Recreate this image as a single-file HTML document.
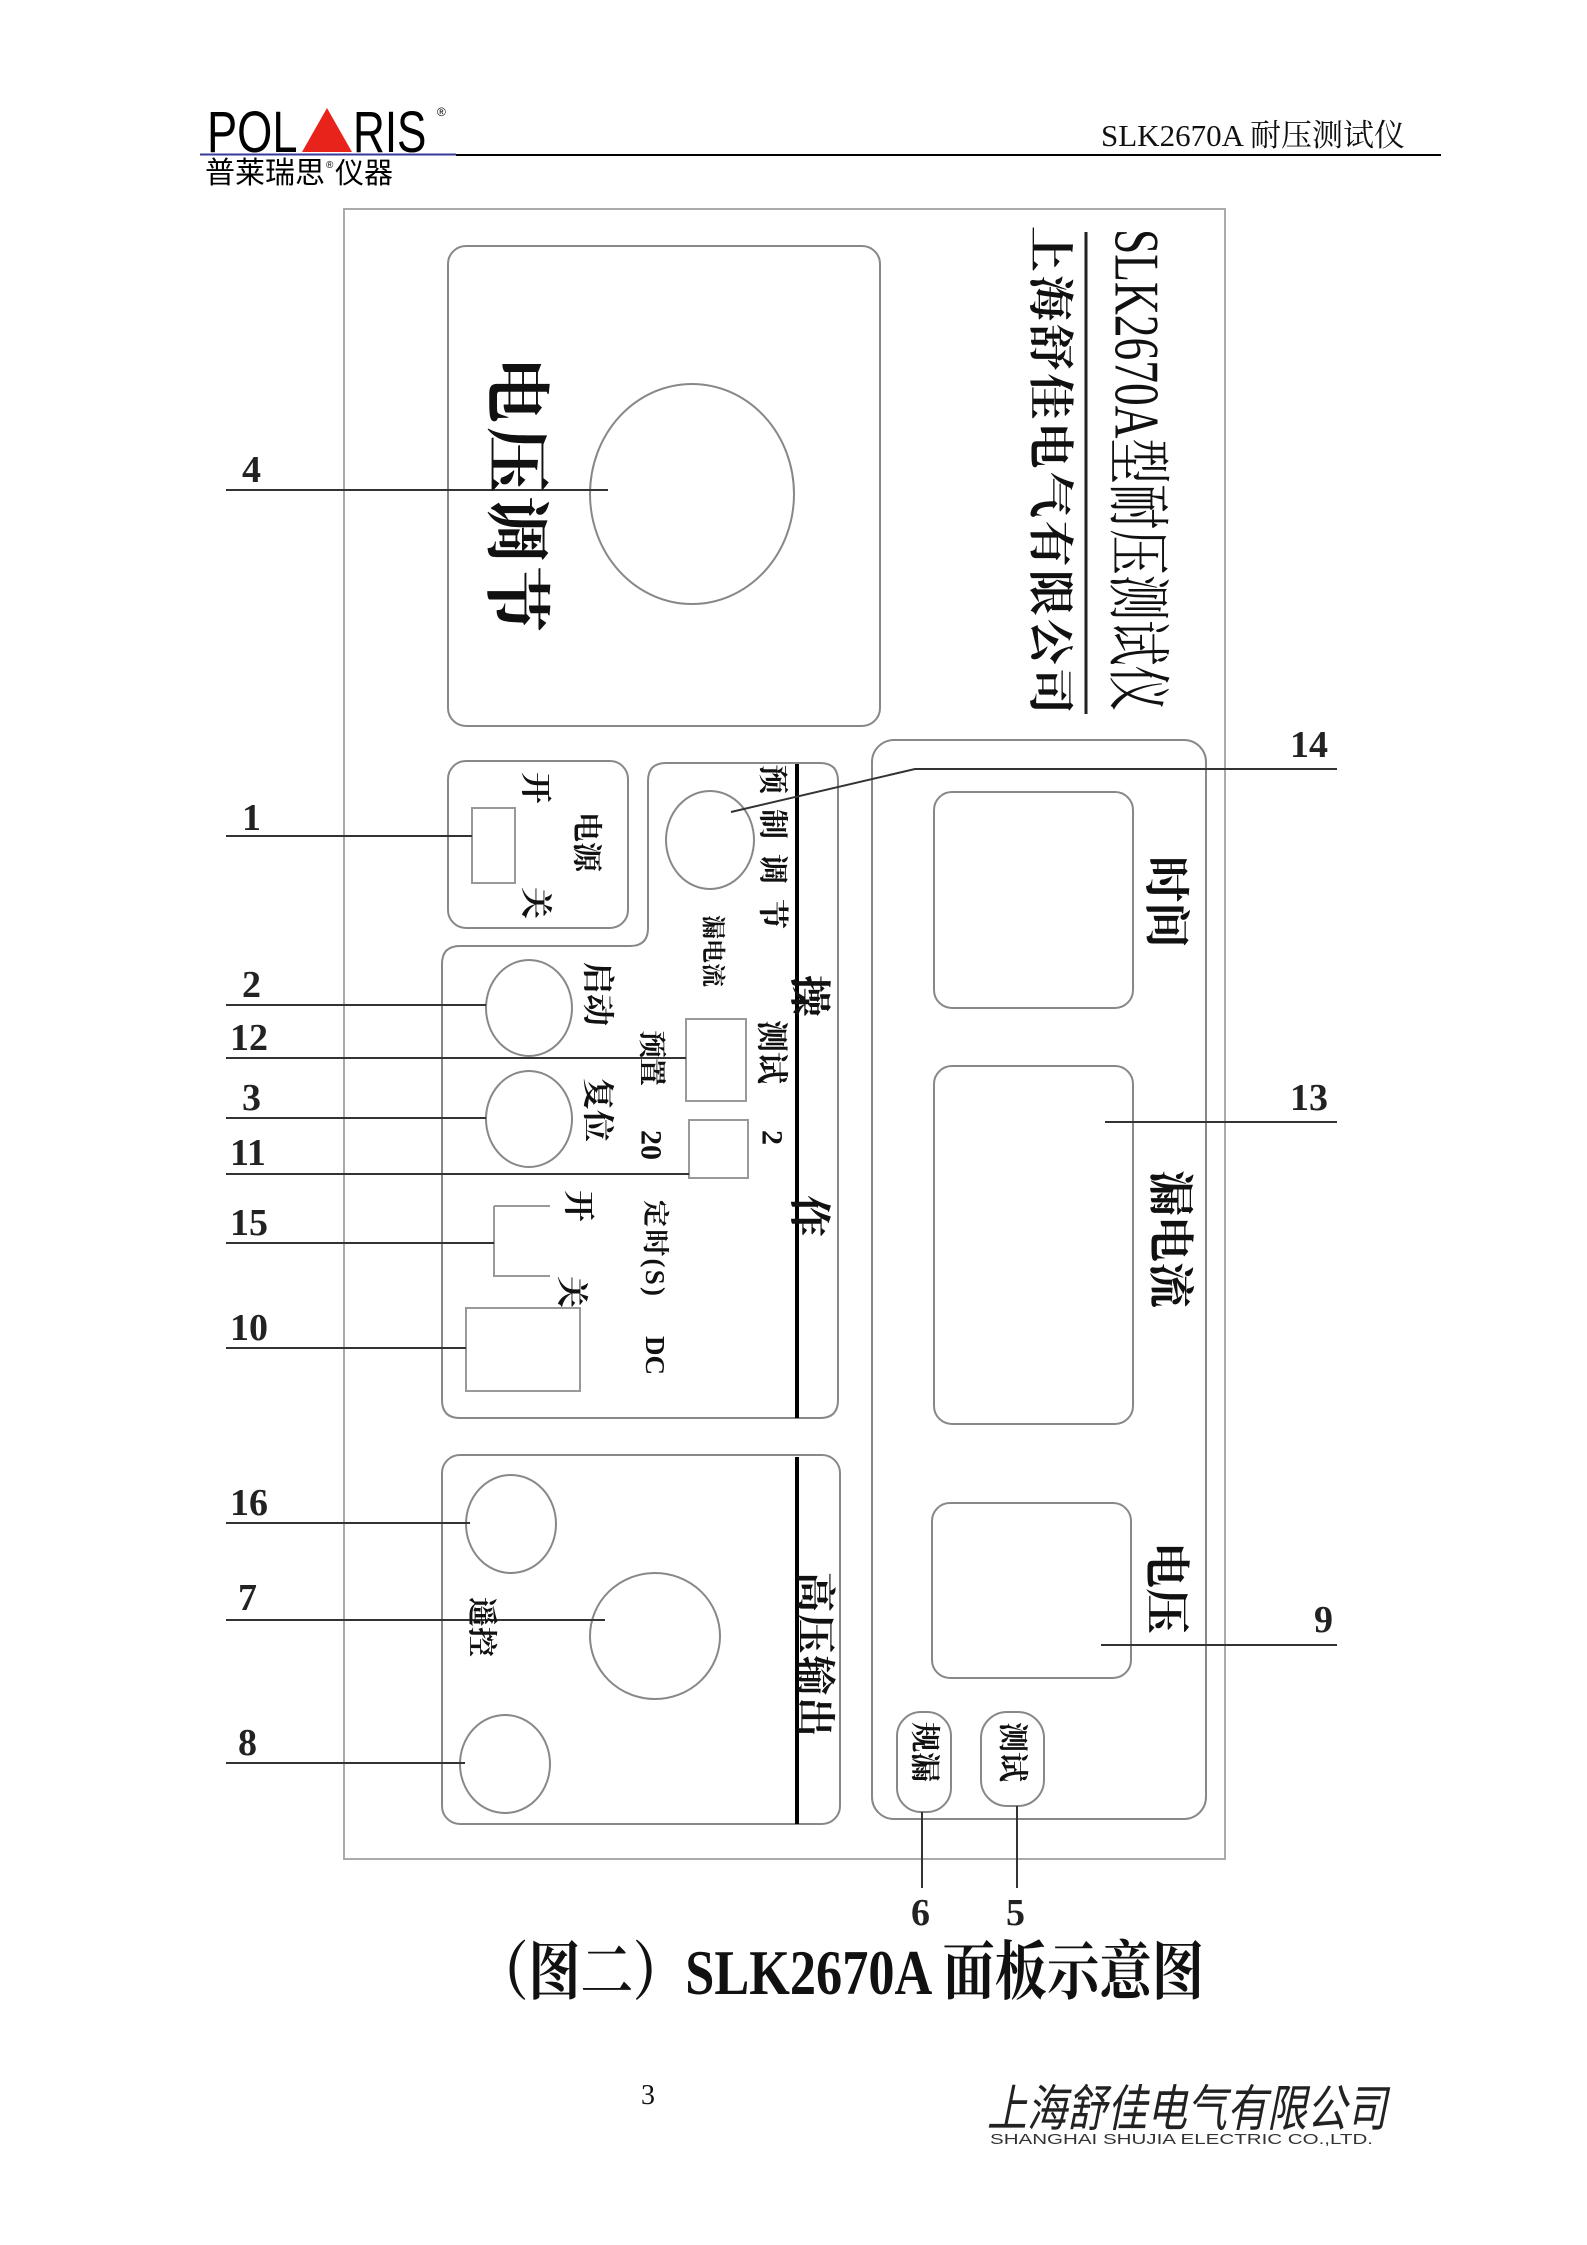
<!DOCTYPE html>
<html><head><meta charset="utf-8"><style>
html,body{margin:0;padding:0;background:#fff}
svg{display:block}
</style></head><body>
<svg width="1587" height="2245" viewBox="0 0 1587 2245" xmlns="http://www.w3.org/2000/svg" font-family="'Liberation Serif','Noto Serif CJK SC',serif">
<!-- header -->
<g font-family="'Liberation Sans','Noto Sans CJK SC',sans-serif">
<text x="207" y="152" font-size="58" transform="translate(207 152) scale(0.78 1) translate(-207 -152)" fill="#000">POL</text>
<polygon points="302,152 327,108 352,152" fill="#e8231c"/>
<text x="353" y="152" font-size="58" transform="translate(353 152) scale(0.76 1) translate(-353 -152)" fill="#000">RIS</text>
<text x="437" y="116" font-size="12">®</text>
<text x="205" y="183" font-size="30" fill="#000">普莱瑞思</text>
<text x="326" y="168" font-size="10">®</text>
<text x="335" y="183" font-size="29">仪器</text>
</g>
<line x1="200" y1="154.5" x2="456" y2="154.5" stroke="#3a3a9a" stroke-width="2"/>
<line x1="456" y1="155" x2="1441" y2="155" stroke="#000" stroke-width="2"/>
<text x="1101" y="146" font-size="31" fill="#111">SLK2670A 耐压测试仪</text>

<!-- panel -->
<rect x="344" y="209" width="881" height="1650" fill="none" stroke="#aaa" stroke-width="2"/>
<g fill="none" stroke="#888" stroke-width="2">
<rect x="448" y="246" width="432" height="480" rx="18"/>
<ellipse cx="692" cy="494" rx="102" ry="110"/>
<rect x="872" y="740" width="334" height="1079" rx="22"/>
<rect x="934" y="792" width="199" height="216" rx="18"/>
<rect x="934" y="1066" width="199" height="358" rx="18"/>
<rect x="932" y="1503" width="199" height="175" rx="18"/>
<rect x="897" y="1712" width="54" height="100" rx="24"/>
<rect x="981" y="1712" width="63" height="94" rx="26"/>
<rect x="448" y="761" width="180" height="167" rx="18"/>
<path d="M666,763 L820,763 Q838,763 838,781 L838,1400 Q838,1418 820,1418 L460,1418 Q442,1418 442,1400 L442,964 Q442,946 460,946 L630,946 Q648,946 648,928 L648,781 Q648,763 666,763 Z"/>
<rect x="442" y="1455" width="398" height="369" rx="18"/>
<rect x="472" y="808" width="43" height="75" stroke="#999"/>
<ellipse cx="710" cy="840" rx="44" ry="49"/>
<ellipse cx="529" cy="1008" rx="43" ry="48"/>
<ellipse cx="529" cy="1119" rx="43" ry="48"/>
<rect x="686" y="1019" width="60" height="82" stroke="#999"/>
<rect x="689" y="1120" width="59" height="58" stroke="#999"/>
<path d="M494,1206 L550,1206 M494,1206 L494,1276 L550,1276" stroke="#999"/>
<rect x="466" y="1308" width="114" height="83" stroke="#999"/>
<ellipse cx="511" cy="1524" rx="45" ry="49"/>
<ellipse cx="655" cy="1636" rx="65" ry="63"/>
<ellipse cx="505" cy="1764" rx="45" ry="49"/>
</g>
<line x1="797" y1="764" x2="797" y2="1418" stroke="#000" stroke-width="4"/>
<line x1="797" y1="1457" x2="797" y2="1824" stroke="#000" stroke-width="4"/>
<line x1="1086" y1="232" x2="1086" y2="714" stroke="#222" stroke-width="3"/>

<!-- leader lines -->
<g stroke="#333" stroke-width="2" fill="none">
<line x1="226" y1="490" x2="608" y2="490"/>
<line x1="226" y1="836" x2="472" y2="836"/>
<line x1="226" y1="1005" x2="486" y2="1005"/>
<line x1="226" y1="1058" x2="686" y2="1058"/>
<line x1="226" y1="1118" x2="486" y2="1118"/>
<line x1="226" y1="1174" x2="689" y2="1174"/>
<line x1="226" y1="1243" x2="494" y2="1243"/>
<line x1="226" y1="1348" x2="466" y2="1348"/>
<line x1="226" y1="1523" x2="470" y2="1523"/>
<line x1="226" y1="1620" x2="605" y2="1620"/>
<line x1="226" y1="1763" x2="465" y2="1763"/>
<polyline points="731,812 915,769 1337,769"/>
<line x1="1105" y1="1122" x2="1337" y2="1122"/>
<line x1="1101" y1="1645" x2="1337" y2="1645"/>
<line x1="922" y1="1812" x2="922" y2="1888"/>
<line x1="1017" y1="1806" x2="1017" y2="1888"/>
</g>

<!-- number labels -->
<g font-size="38" font-weight="bold" fill="#222">
<text x="242" y="482">4</text>
<text x="242" y="830">1</text>
<text x="242" y="997">2</text>
<text x="230" y="1050">12</text>
<text x="242" y="1110">3</text>
<text x="230" y="1165">11</text>
<text x="230" y="1235">15</text>
<text x="230" y="1340">10</text>
<text x="230" y="1515">16</text>
<text x="238" y="1610">7</text>
<text x="238" y="1755">8</text>
<text x="1290" y="757">14</text>
<text x="1290" y="1110">13</text>
<text x="1314" y="1632">9</text>
<text x="911" y="1925">6</text>
<text x="1006" y="1925">5</text>
</g>

<!-- rotated texts (90deg cw) -->
<g fill="#111" dominant-baseline="central">
<text transform="translate(515,357) rotate(90)" font-size="66" font-weight="bold" textLength="275" lengthAdjust="spacing">电压调节</text>
<text transform="translate(1137,229) rotate(90)" font-size="64" textLength="482" lengthAdjust="spacingAndGlyphs">SLK2670A型耐压测试仪</text>
<text transform="translate(1050,226) rotate(90)" font-size="46" font-weight="bold" textLength="488" lengthAdjust="spacing">上海舒佳电气有限公司</text>
<text transform="translate(1166,856) rotate(90)" font-size="46" font-weight="bold">时间</text>
<text transform="translate(1170,1170) rotate(90)" font-size="46" font-weight="bold">漏电流</text>
<text transform="translate(1166,1542) rotate(90)" font-size="46" font-weight="bold">电压</text>
<text transform="translate(536,772) rotate(90)" font-size="32" font-weight="bold">开</text>
<text transform="translate(586,812) rotate(90)" font-size="30" font-weight="bold">电源</text>
<text transform="translate(536,887) rotate(90)" font-size="32" font-weight="bold">关</text>
<text transform="translate(772,764) rotate(90)" font-size="30" font-weight="bold" textLength="165" lengthAdjust="spacing">预制调节</text>
<text transform="translate(712,915) rotate(90)" font-size="24" font-weight="bold">漏电流</text>
<text transform="translate(808,975) rotate(90)" font-size="42" font-weight="bold">操</text>
<text transform="translate(808,1195) rotate(90)" font-size="42" font-weight="bold">作</text>
<text transform="translate(772,1020) rotate(90)" font-size="32" font-weight="bold">测试</text>
<text transform="translate(772,1130) rotate(90)" font-size="30" font-weight="bold">2</text>
<text transform="translate(598,962) rotate(90)" font-size="32" font-weight="bold">启动</text>
<text transform="translate(598,1078) rotate(90)" font-size="32" font-weight="bold">复位</text>
<text transform="translate(651,1030) rotate(90)" font-size="28" font-weight="bold">预置</text>
<text transform="translate(651,1130) rotate(90)" font-size="30" font-weight="bold">20</text>
<text transform="translate(579,1190) rotate(90)" font-size="32" font-weight="bold">开</text>
<text transform="translate(572,1276) rotate(90)" font-size="32" font-weight="bold">关</text>
<text transform="translate(655,1200) rotate(90)" font-size="27" font-weight="bold" textLength="96" lengthAdjust="spacing">定时(S)</text>
<text transform="translate(655,1336) rotate(90)" font-size="27" font-weight="bold">DC</text>
<text transform="translate(481,1597) rotate(90)" font-size="30" font-weight="bold">遥控</text>
<text transform="translate(815,1572) rotate(90)" font-size="40" font-weight="bold" textLength="165" lengthAdjust="spacing">高压输出</text>
<text transform="translate(924,1722) rotate(90)" font-size="30" font-weight="bold">规漏</text>
<text transform="translate(1012,1722) rotate(90)" font-size="30" font-weight="bold">测试</text>
</g>

<!-- caption -->
<text x="476" y="1994" font-size="64" font-weight="bold" fill="#111" textLength="728" lengthAdjust="spacingAndGlyphs">（图二）SLK2670A 面板示意图</text>
<text x="641" y="2104" font-size="28" fill="#111">3</text>
<text x="987" y="2126" font-size="50" font-style="italic" fill="#222" textLength="400" lengthAdjust="spacingAndGlyphs" font-family="'Noto Sans CJK SC',sans-serif">上海舒佳电气有限公司</text>
<text x="990" y="2144" font-size="15" fill="#333" textLength="383" lengthAdjust="spacingAndGlyphs" font-family="'Liberation Sans',sans-serif">SHANGHAI  SHUJIA  ELECTRIC CO.,LTD.</text>
</svg>
</body></html>
